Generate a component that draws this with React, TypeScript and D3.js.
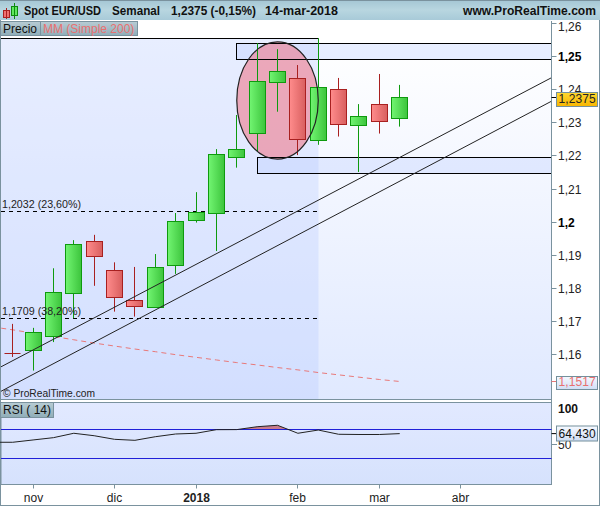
import React from "react";
import * as d3 from "d3";

const opens = [1.1604,1.1611,1.1655,1.1783,1.1940,1.1853,1.1762,1.1741,1.1868,1.2006,1.2025,1.2196,1.2269,1.2423,1.2433,1.2246,1.2400,1.2291,1.2354,1.2312];
const closes = [1.1604,1.1666,1.1786,1.1931,1.1895,1.1771,1.1746,1.1862,1.2001,1.2028,1.2204,1.2219,1.2424,1.2454,1.2249,1.2406,1.2294,1.2318,1.2303,1.2375];
const highs = [1.1691,1.1679,1.1859,1.1944,1.1960,1.1877,1.1863,1.1902,1.2026,1.2089,1.2219,1.2322,1.2539,1.2521,1.2473,1.2554,1.2434,1.2355,1.2446,1.2413];
const lows = [1.1591,1.1550,1.1636,1.1708,1.1806,1.1728,1.1713,1.1741,1.1842,1.1997,1.1911,1.2163,1.2211,1.2332,1.2201,1.2232,1.2257,1.2150,1.2266,1.2287];
const ma200 = [1.1682,1.1673,1.1663,1.1653,1.1643,1.1633,1.1624,1.1615,1.1607,1.1598,1.1590,1.1582,1.1574,1.1567,1.1559,1.1552,1.1544,1.1537,1.1530,1.1523,1.1517];
const rsi = [52.4,52.4,55.6,58.8,64.9,61.5,56.5,55.1,60.1,63.9,64.9,69.9,70,74,76,64.9,69.4,63.5,63.2,63.2,64.43];
const priceTicks = ["1,26","1,25","1,24","1,23","1,22","1,21","1,2","1,19","1,18","1,17","1,16"];
const priceTickValues = [1.26,1.25,1.24,1.23,1.22,1.21,1.2,1.19,1.18,1.17,1.16];
const boldPrices = ["1,25","1,2"];
const monthLabels = ["nov","dic","2018","feb","mar","abr"];
const monthIndex = [1,5,9,14,18,22];
const fibs = [{ v: 1.2032, label: "1,2032 (23,60%)" }, { v: 1.1709, label: "1,1709 (38,20%)" }];
const trendLines = [[-0.614,1.1560,26.49,1.2436],[-0.614,1.1486,26.49,1.2365]];
const bands = [{ start: 11, top: 1.2540, bottom: 1.2491 }, { start: 12, top: 1.2195, bottom: 1.2147 }];

const FONT = "'Liberation Sans', Arial, sans-serif";
const L = 1, R = 551.5, T = 38.5, B = 399.5, RT = 402.5, RB = 484.5;
const x = d3.scaleLinear().domain([0, 19]).range([12.7, 399.73]);
const y = d3.scaleLinear().domain([1.16, 1.26]).range([354, 23]);
const ry = d3.scaleLinear().domain([50, 100]).range([444, 408]);
const px = (v: number) => Math.floor(x(v)) + 0.5;
const py = (v: number) => Math.round(y(v)) + 0.5;
const idx = d3.range(-1, 20);

const maLine = d3.line<number>().x((_, i) => x(idx[i])).y((d) => y(d))(ma200) as string;
const rsiGen = d3.line<number>().x((_, i) => x(idx[i])).y((d) => ry(d));
const rsiArea = d3.area<number>().x((_, i) => x(idx[i])).y0(ry(70)).y1((d) => ry(d))(rsi) as string;

const Tag = ({ y0, h, fill, color, text }: any) => (
  <g>
    <rect x={556.5} y={y0} width={41} height={h} fill={fill} stroke="#74909c" />
    <text x={558.5} y={y0 + h - 3.5} fontSize={12} fill={color} letterSpacing={0.1}>{text}</text>
  </g>
);

export default function App() {
  const up = (i: number) => closes[i] > opens[i];
  const ecx = x(13), ecy = (y(1.2543) + y(1.2189)) / 2, erx = x(15) - x(13), ery = (y(1.2189) - y(1.2543)) / 2;
  return (
    <svg width={600} height={506} viewBox="0 0 600 506" style={{ position: "fixed", left: 0, top: 0 }} fontFamily={FONT}>
      <defs>
        <linearGradient id="hdr" x1="0" y1="0" x2="0" y2="1">
          <stop offset="0" stopColor="#a4c6d4" /><stop offset="0.5" stopColor="#b8d6e0" /><stop offset="1" stopColor="#a8cad8" />
        </linearGradient>
        <linearGradient id="tagb" x1="0" y1="0" x2="0" y2="1">
          <stop offset="0" stopColor="#b8ccd4" /><stop offset="1" stopColor="#8fadb8" />
        </linearGradient>
        <linearGradient id="bg" x1="0" y1="0" x2="0" y2="1">
          <stop offset="0" stopColor="#ffffff" /><stop offset="1" stopColor="#e0e9ff" />
        </linearGradient>
        <linearGradient id="bg2" x1="0" y1="0" x2="0" y2="1">
          <stop offset="0" stopColor="#e2e9ff" /><stop offset="1" stopColor="#d6e2fd" />
        </linearGradient>
        <linearGradient id="gUp" x1="0" y1="0" x2="1" y2="0">
          <stop offset="0" stopColor="#72f572" /><stop offset="1" stopColor="#3cc43c" />
        </linearGradient>
        <linearGradient id="gDn" x1="0" y1="0" x2="1" y2="0">
          <stop offset="0" stopColor="#ff8c8c" /><stop offset="1" stopColor="#d85f5f" />
        </linearGradient>
        <linearGradient id="gold" x1="0" y1="0" x2="0" y2="1">
          <stop offset="0" stopColor="#ffd830" /><stop offset="1" stopColor="#f7b500" />
        </linearGradient>
        <linearGradient id="tagw" x1="0" y1="0" x2="0" y2="1">
          <stop offset="0" stopColor="#f6f9ff" /><stop offset="1" stopColor="#d0def5" />
        </linearGradient>
        <clipPath id="plot"><rect x={L} y={T} width={R - L} height={B - T} /></clipPath>
        <clipPath id="rsiClip"><rect x={L} y={RT} width={R - L} height={ry(70) - RT} /></clipPath>
      </defs>
      <rect width={600} height={506} fill="#fff" />
      {/* header */}
      <rect x={0} y={0} width={600} height={20} fill="url(#hdr)" />
      <line x1={0} x2={600} y1={0.5} y2={0.5} stroke="#7a929e" />
      <rect x={3.5} y={10.5} width={6} height={7} fill="#f07070" stroke="#a82020" />
      <line x1={6.5} x2={6.5} y1={8} y2={19} stroke="#a82020" />
      <rect x={11.5} y={6.5} width={6} height={9} fill="#5fe85f" stroke="#0e8a0e" />
      <line x1={14.5} x2={14.5} y1={3} y2={19} stroke="#0e8a0e" />
      <text x={24} y={15} fontSize={12} fontWeight="bold" fill="#111" textLength={77} lengthAdjust="spacingAndGlyphs">Spot EUR/USD</text>
      <text x={112} y={15} fontSize={12} fontWeight="bold" fill="#111" textLength={48} lengthAdjust="spacingAndGlyphs">Semanal</text>
      <text x={171} y={15} fontSize={12} fontWeight="bold" fill="#111" textLength={85} lengthAdjust="spacingAndGlyphs">1,2375 (-0,15%)</text>
      <text x={265} y={15} fontSize={12} fontWeight="bold" fill="#111" textLength={73} lengthAdjust="spacingAndGlyphs">14-mar-2018</text>
      <text x={463} y={15} fontSize={12} fontWeight="bold" fill="#111" textLength={133} lengthAdjust="spacingAndGlyphs">www.ProRealTime.com</text>
      {/* legend tags */}
      <rect x={0.5} y={21.5} width={40} height={14} fill="url(#tagb)" stroke="#7a929e" />
      <text x={3} y={32.5} fontSize={12} fill="#111">Precio</text>
      <rect x={40.5} y={21.5} width={97} height={14} fill="url(#tagb)" stroke="#7a929e" />
      <text x={43} y={32.5} fontSize={12} fill="#e87070">MM (Simple 200)</text>
      {/* plot */}
      <rect x={L} y={T} width={R - L} height={B - T} fill="url(#bg)" />
      <rect x={L} y={T} width={px(15) - L} height={B - T} fill="#b4c8ff" fillOpacity={0.3} />
      <line x1={L} x2={px(15)} y1={T} y2={T} stroke="#000" />
      {bands.map((b, i) => (
        <rect key={i} x={px(b.start)} y={py(b.top)} width={R - px(b.start)} height={py(b.bottom) - py(b.top)} fill="#b4c8ff" fillOpacity={0.3} />
      ))}
      <ellipse cx={ecx} cy={ecy} rx={erx} ry={ery} fill="#ee7a8c" fillOpacity={0.6} />
      {bands.map((b, i) => (
        <rect key={i} x={px(b.start)} y={py(b.top)} width={R - px(b.start)} height={py(b.bottom) - py(b.top)} fill="none" stroke="#000" />
      ))}
      {/* fib lines */}
      {fibs.map((f) => (
        <line key={f.label} x1={L} x2={px(15)} y1={py(f.v)} y2={py(f.v)} stroke="#000" strokeDasharray="4 4" />
      ))}
      <g clipPath="url(#plot)">
        <path d={maLine} fill="none" stroke="#e87878" strokeDasharray="5 4" />
      </g>
      {/* candles */}
      {opens.map((o, i) => {
        const c = closes[i];
        const col = up(i) ? "#0e9a0e" : "#a82020";
        const top = py(Math.max(o, c));
        const bot = py(Math.min(o, c));
        const cx = px(i);
        return (
          <g key={i}>
            <line x1={cx} x2={cx} y1={y(highs[i])} y2={y(lows[i])} stroke={col} />
            {o === c ? (
              <line x1={cx - 8} x2={cx + 8} y1={top} y2={top} stroke={col} />
            ) : (
              <rect x={cx - 8} y={top} width={16} height={bot - top} fill={up(i) ? "url(#gUp)" : "url(#gDn)"} stroke={col} />
            )}
          </g>
        );
      })}
      <g clipPath="url(#plot)">
        {trendLines.map((t, i) => (
          <line key={i} x1={x(t[0])} y1={y(t[1])} x2={x(t[2])} y2={y(t[3])} stroke="#222" strokeWidth={1} />
        ))}
      </g>
      <ellipse cx={ecx} cy={ecy} rx={erx} ry={ery} fill="none" stroke="#222" strokeWidth={1.2} />
      {fibs.map((f) => (
        <text key={f.label} x={2} y={py(f.v) - 3.5} fontSize={11} fill="#222" textLength={79} lengthAdjust="spacingAndGlyphs">{f.label}</text>
      ))}
      <text x={3} y={397} fontSize={11} fill="#222" textLength={92} lengthAdjust="spacingAndGlyphs">© ProRealTime.com</text>
      {/* frames */}
      <line x1={0.5} x2={0.5} y1={20} y2={506} stroke="#7a929e" />
      <line x1={599.5} x2={599.5} y1={20} y2={506} stroke="#7a929e" />
      <line x1={0} x2={600} y1={505.5} y2={505.5} stroke="#7a929e" />
      <line x1={R} x2={R} y1={21} y2={485} stroke="#7a929e" />
      <line x1={0} x2={R} y1={B} y2={B} stroke="#7a929e" />
      {/* price axis */}
      {priceTicks.map((t, i) => {
        const yy = Math.round(y(priceTickValues[i])) + 0.5;
        return (
          <g key={t}>
            <line x1={R} x2={R + 5} y1={yy} y2={yy} stroke="#7a929e" />
            <text x={558} y={yy + 4 + (i === 0 ? 3 : 0)} fontSize={12} fontWeight={boldPrices.includes(t) ? "bold" : "normal"} fill={boldPrices.includes(t) ? "#000" : "#222"}>{t}</text>
          </g>
        );
      })}
      <line x1={R} x2={557} y1={py(closes[19])} y2={py(closes[19])} stroke="#000" />
      <Tag y0={92.5} h={14} fill="url(#gold)" color="#222" text="1,2375" />
      <line x1={R} x2={557} y1={py(ma200[20])} y2={py(ma200[20])} stroke="#e87878" />
      <Tag y0={376.5} h={13} fill="url(#tagw)" color="#e87070" text="1,1517" />
      {/* RSI */}
      <rect x={L} y={RT} width={R - L} height={RB - RT} fill="url(#bg2)" stroke="#7a929e" />
      <path d={rsiArea} fill="#c06070" fillOpacity={0.8} clipPath="url(#rsiClip)" />
      <line x1={L} x2={R} y1={429.5} y2={429.5} stroke="#2020d8" />
      <line x1={L} x2={R} y1={458.5} y2={458.5} stroke="#2020d8" />
      <path d={rsiGen(rsi) as string} fill="none" stroke="#222" strokeWidth={1} />
      <rect x={0.5} y={402.5} width={53} height={15} fill="url(#tagb)" stroke="#7a929e" />
      <text x={3} y={414} fontSize={12} fill="#111">RSI ( 14)</text>
      <text x={558} y={412.5} fontSize={12} fontWeight="bold" fill="#111">100</text>
      <text x={558} y={448.5} fontSize={12} fill="#222">50</text>
      <line x1={R} x2={557} y1={ry(64.43)} y2={ry(64.43)} stroke="#000" />
      <line x1={R} x2={557} y1={444.5} y2={444.5} stroke="#7a929e" />
      <Tag y0={426} h={15} fill="url(#tagw)" color="#111" text="64,430" />
      {/* time axis */}
      {monthLabels.map((m, i) => (
        <g key={m}>
          <line x1={px(monthIndex[i])} x2={px(monthIndex[i])} y1={RB} y2={RB + 4} stroke="#7a929e" />
          <text x={px(monthIndex[i])} y={502} textAnchor="middle" fontSize={12} fontWeight={m === "2018" ? "bold" : "normal"} fill="#222">{m}</text>
        </g>
      ))}
    </svg>
  );
}
